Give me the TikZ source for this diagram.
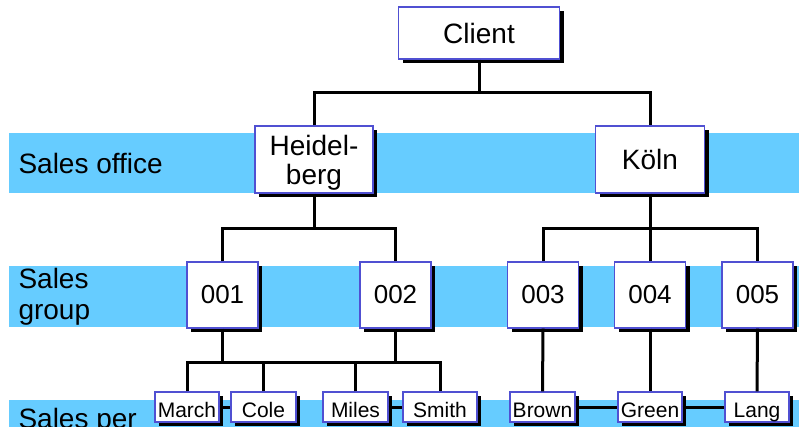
\documentclass[tikz,border=0pt]{standalone}
\usepackage{fontspec}
\setmainfont{Liberation Sans}
\usetikzlibrary{shadows}

\definecolor{bandblue}{RGB}{102,204,255}
\definecolor{boxblue}{RGB}{80,80,210}

\tikzset{
    unit/.style={draw=boxblue, line width=1.2pt, fill=white, inner sep=0pt,
        drop shadow={shadow xshift=4pt, shadow yshift=-4pt, fill=black, opacity=1}},
    bigbox/.style={unit, font=\fontsize{28}{29}\selectfont, align=center},
    groupbox/.style={unit, minimum width=71pt, minimum height=66pt, font=\fontsize{26}{26}\selectfont},
    personbox/.style={unit, minimum height=30pt, text height=20pt, text depth=0pt,
        font=\fontsize{21}{21}\selectfont},
    level/.style={anchor=west, align=left, font=\fontsize{28}{31}\selectfont},
    link/.style={line width=3pt}
}

\begin{document}
\begin{tikzpicture}[x=1pt,y=-1pt]
            \clip (0,0) rectangle (799,427);
            \fill[white] (0,0) rectangle (799,427);

            % Baender
            \fill[bandblue] (9,133) rectangle (799,193);
            \fill[bandblue] (9,266) rectangle (799,327);
            \fill[bandblue] (9,400) rectangle (799,440);
            \node (office) at (15,163)[level] {Sales office};
            \node (group) at (15,297)[level] {Sales\\group};
            \node (person) at (15,428)[level, anchor=base west] {Sales per};

            \coordinate (bar1) at (0,93);
            \coordinate (bar2) at (0,229);
            \coordinate (bar3) at (0,362);

            % Knoten
            \node (client) at (479,33)[bigbox, minimum width=161pt, minimum height=52pt] {Client};
            \node (heidelberg) at (314,159.5)[bigbox, text depth=0pt, minimum width=118pt, minimum height=67pt] {Heidel-\\berg};
            \node (koeln) at (650,159.5)[bigbox, minimum width=109pt, minimum height=67pt] {Köln};

            \node (g001) at (222.5,295)[groupbox] {001};
            \node (g002) at (395.5,295)[groupbox] {002};
            \node (g003) at (543,295)[groupbox] {003};
            \node (g004) at (650,295)[groupbox] {004};
            \node (g005) at (757.5,295)[groupbox] {005};

            \node (march) at (187,407)[personbox, minimum width=64pt] {March};
            \node (cole) at (263.5,407)[personbox, minimum width=65pt] {Cole};
            \node (miles) at (355.5,407)[personbox, minimum width=65pt] {Miles};
            \node (smith) at (440,407)[personbox, minimum width=74pt] {Smith};
            \node (brown) at (542.5,407)[personbox, minimum width=65pt] {Brown};
            \node (green) at (650,407)[personbox, minimum width=64pt] {Green};
            \node (lang) at (757,407)[personbox, minimum width=64pt] {Lang};

            % Verbindungen
            \draw[link] (client.south) -- (client.south |- bar1);
            \draw[link] (heidelberg.north) -- (heidelberg.north |- bar1) -| (koeln.north);

            \draw[link] (heidelberg.south) -- (heidelberg.south |- bar2);
            \draw[link] (g001.north) -- (g001.north |- bar2) -| (g002.north);
            \draw[link] (g003.north) -- (g003.north |- bar2) -| (g005.north);
            \draw[link] (koeln.south) -- (g004.north);

            \draw[link] (g001.south) -- (g001.south |- bar3);
            \draw[link] (g002.south) -- (g002.south |- bar3);
            \draw[link] (march.north) -- (march.north |- bar3) -| (smith.north);
            \draw[link] (cole.north) -- (cole.north |- bar3);
            \draw[link] (miles.north) -- (miles.north |- bar3);

            \draw[link] (g003.south) -- (brown.north);
            \draw[link] (g004.south) -- (green.north);
            \draw[link] (g005.south) -- (lang.north);

            \draw[link] (march.east) -- (cole.west);
            \draw[link] (miles.east) -- (smith.west);
            \draw[link] (brown.east) -- (green.west);
            \draw[link] (green.east) -- (lang.west);
      \end{tikzpicture}
\end{document}
